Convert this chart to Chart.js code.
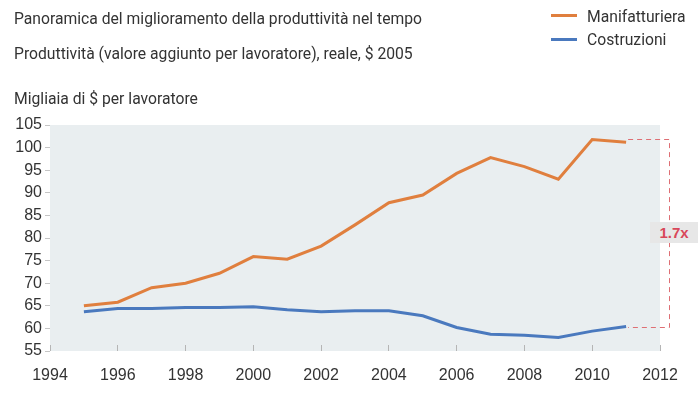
<!DOCTYPE html>
<html>
<head>
<meta charset="utf-8">
<script src="https://cdn.jsdelivr.net/npm/chart.js@4.4.1/dist/chart.umd.min.js"></script>
<style>
  html, body { margin:0; padding:0; background:#fff; }
  #wrap { position:relative; width:700px; height:396px; overflow:hidden; }
  #c { position:absolute; left:0; top:0; }
  .txt { position:absolute; font-family:Roboto, "Open Sans", sans-serif; color:#333; font-size:15.7px; line-height:16px; white-space:nowrap; }
  .leg { position:absolute; height:3px; width:26px; }
  #ratio { position:absolute; left:650px; top:222px; width:48px; height:21px; background:#e7e7e7;
           font-family:"Liberation Sans", Arial, sans-serif; font-weight:bold; font-size:15px; line-height:21px;
           color:#d9475a; text-align:center; }
</style>
</head>
<body>
<div id="wrap">
  <canvas id="c" width="700" height="396"></canvas>
  <div class="txt" style="left:14px;top:11px;">Panoramica del miglioramento della produttività nel tempo</div>
  <div class="txt" style="left:14px;top:46px;">Produttività (valore aggiunto per lavoratore), reale, $ 2005</div>
  <div class="txt" style="left:14px;top:91px;">Migliaia di $ per lavoratore</div>
  <div class="leg" style="left:551px;top:14px;background:#e07f3e;"></div>
  <div class="txt" style="left:587px;top:9px;">Manifatturiera</div>
  <div class="leg" style="left:551px;top:38px;background:#4a79be;"></div>
  <div class="txt" style="left:587px;top:32px;">Costruzioni</div>
  <div id="ratio">1.7x</div>
</div>
<script>
const years = [1995,1996,1997,1998,1999,2000,2001,2002,2003,2004,2005,2006,2007,2008,2009,2010,2011];
const manifatturiera = [65.0,65.8,69.0,70.0,72.2,75.9,75.3,78.2,82.9,87.8,89.5,94.3,97.8,95.8,93.0,101.8,101.2];
const costruzioni = [63.7,64.4,64.4,64.6,64.6,64.8,64.1,63.7,63.9,63.9,62.8,60.2,58.7,58.5,58.0,59.4,60.4];
const xTicks = [1994,1996,1998,2000,2002,2004,2006,2008,2010,2012];
const yTicks = [55,60,65,70,75,80,85,90,95,100,105];

const ORANGE = '#e07f3e';
const BLUE = '#4a79be';

const bgPlugin = {
  id: 'bg',
  beforeDraw(chart) {
    const a = chart.chartArea, ctx = chart.ctx;
    ctx.save();
    ctx.fillStyle = '#e9eef0';
    ctx.fillRect(a.left, a.top, a.right - a.left, a.bottom - a.top);
    ctx.restore();
  }
};

const annot = {
  id: 'annot',
  afterDatasetsDraw(chart) {
    const xs = chart.scales.x, ys = chart.scales.y, ctx = chart.ctx;
    const topV = Math.max(...manifatturiera);
    const botV = costruzioni[costruzioni.length - 1];
    const x0 = xs.getPixelForValue(years[years.length - 1]) + 2;
    const x1 = Math.round(xs.getPixelForValue(2012) + 9) + 0.5;
    const yt = Math.round(ys.getPixelForValue(topV)) + 0.5;
    const yb = Math.round(ys.getPixelForValue(botV)) + 0.5;
    ctx.save();
    ctx.strokeStyle = '#de6f74';
    ctx.lineWidth = 1;
    ctx.setLineDash([5, 4]);
    ctx.beginPath();
    ctx.moveTo(x0, yt); ctx.lineTo(x1, yt); ctx.lineTo(x1, yb); ctx.lineTo(x0, yb);
    ctx.stroke();
    ctx.restore();
  }
};

new Chart(document.getElementById('c'), {
  type: 'line',
  data: {
    datasets: [
      { label: 'Manifatturiera', data: years.map((y, i) => ({x: y, y: manifatturiera[i]})),
        borderColor: ORANGE, borderWidth: 3, pointRadius: 0, tension: 0, fill: false },
      { label: 'Costruzioni', data: years.map((y, i) => ({x: y, y: costruzioni[i]})),
        borderColor: BLUE, borderWidth: 3, pointRadius: 0, tension: 0, fill: false }
    ]
  },
  options: {
    responsive: false,
    animation: false,
    layout: { padding: { top: 125, right: 40, left: 0, bottom: 0 } },
    plugins: { legend: { display: false }, tooltip: { enabled: false }, title: { display: false } },
    scales: {
      x: {
        type: 'linear', min: 1994, max: 2012,
        afterBuildTicks(s) { s.ticks = xTicks.map(v => ({value: v})); },
        afterFit(s) { s.height = 45; },
        grid: { drawOnChartArea: false, drawTicks: true, tickLength: -6, color: '#b5b5b5' },
        border: { display: false },
        ticks: { padding: 21, color: '#333', font: { family: '"Liberation Sans", Arial, sans-serif', size: 16 },
                 maxRotation: 0, autoSkip: false, callback: v => String(v) }
      },
      y: {
        min: 55, max: 105,
        afterBuildTicks(s) { s.ticks = yTicks.map(v => ({value: v})); },
        afterFit(s) { s.width = 50; },
        grid: { drawOnChartArea: false, drawTicks: true, tickLength: 5, color: '#c5c5c5' },
        border: { display: false },
        ticks: { padding: 3, color: '#333', font: { family: '"Liberation Sans", Arial, sans-serif', size: 16 },
                 callback: v => String(v) }
      }
    }
  },
  plugins: [bgPlugin, annot]
});
</script>
</body>
</html>
